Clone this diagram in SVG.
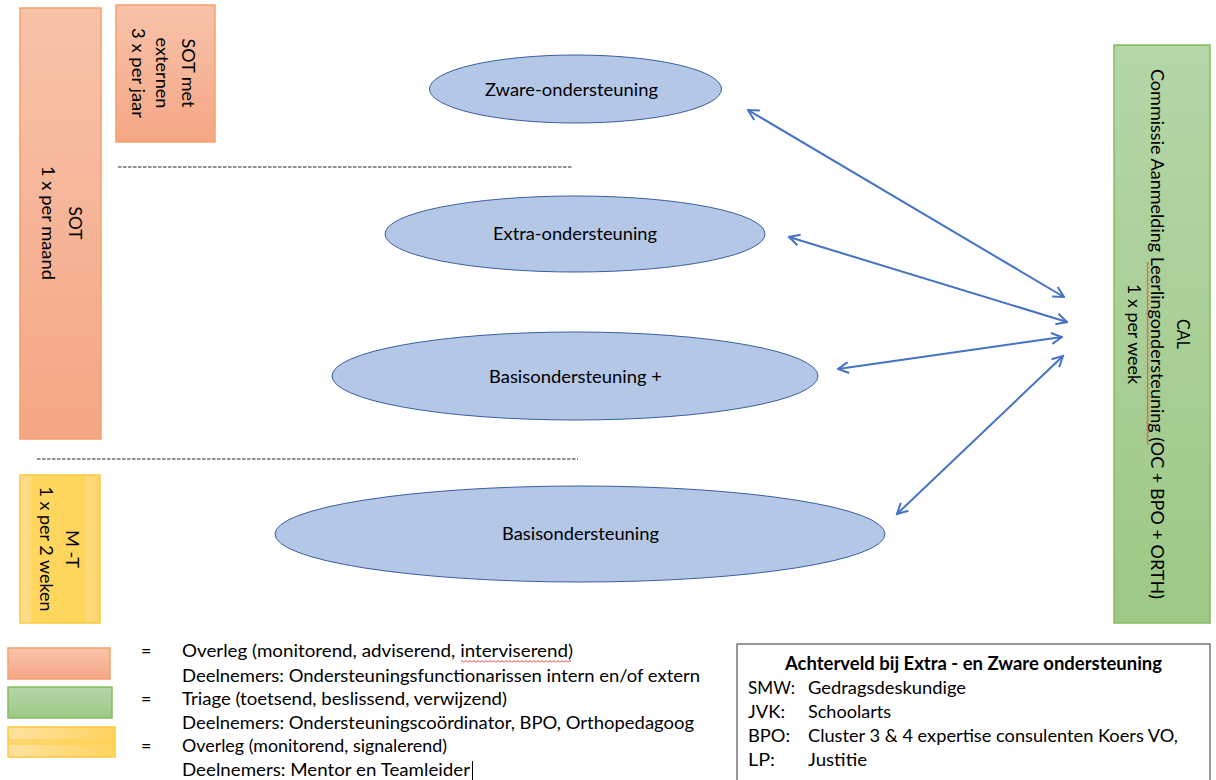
<svg xmlns="http://www.w3.org/2000/svg" width="1216" height="780" viewBox="0 0 1216 780">
<defs>
<linearGradient id="gOrange" x1="0" y1="0" x2="0" y2="1">
<stop offset="0" stop-color="#F8C3AA"/><stop offset="1" stop-color="#F4A684"/>
</linearGradient>
<linearGradient id="gGreen" x1="0" y1="0" x2="0" y2="1">
<stop offset="0" stop-color="#B5D6A8"/><stop offset="1" stop-color="#9DC886"/>
</linearGradient>
<linearGradient id="gYellowV" x1="0" y1="0" x2="1" y2="0">
<stop offset="0" stop-color="#FFDF8F"/><stop offset="0.15" stop-color="#FFDB80"/><stop offset="0.15" stop-color="#FFD75F"/><stop offset="0.82" stop-color="#FFD55B"/><stop offset="0.82" stop-color="#FFDB80"/><stop offset="1" stop-color="#FFD46A"/>
</linearGradient>
<linearGradient id="gYellowH" x1="0" y1="0" x2="1" y2="0">
<stop offset="0" stop-color="#FFE2A0"/><stop offset="1" stop-color="#FFD35E"/>
</linearGradient>
<pattern id="squig" width="4" height="3" patternUnits="userSpaceOnUse">
<path d="M0,2.5 L2,0.5 L4,2.5" fill="none" stroke="#E02020" stroke-width="0.9"/>
</pattern>
<marker id="ah" viewBox="0 0 14 14" markerWidth="14" markerHeight="14" refX="12.5" refY="7" orient="auto-start-reverse" markerUnits="userSpaceOnUse">
<path d="M2,1.5 L12.5,7 L2,12.5" fill="none" stroke="#4472C4" stroke-width="2"/>
</marker>
</defs>
<style>
text{font-family:Lato,"Liberation Sans",sans-serif;font-size:18px;fill:#000}
.mid{text-anchor:middle}
.orange{fill:url(#gOrange);stroke:#F5A06B;stroke-width:1.5}
.green{fill:url(#gGreen);stroke:#82BC5E;stroke-width:1.5}
.ell{fill:#B4C7E7;stroke:#3A5E9E;stroke-width:1}
.dash{stroke:#222;stroke-width:1;stroke-dasharray:3.5 1.5}
.conn{stroke:#4472C4;stroke-width:2;fill:none;marker-start:url(#ah);marker-end:url(#ah)}
.bold{font-weight:bold}
</style>

<g id="sot">
<rect class="orange" x="20" y="8" width="81" height="431"/>
<g transform="translate(61,223) rotate(90)">
<text class="mid" x="0" y="-8" textLength="33" lengthAdjust="spacingAndGlyphs">SOT</text>
<text class="mid" x="0" y="19" textLength="114" lengthAdjust="spacingAndGlyphs">1 x per maand</text>
</g>
</g>

<g id="sot-extern">
<rect class="orange" x="116" y="5" width="99" height="137"/>
<g transform="translate(163,73) rotate(90)">
<text class="mid" x="0" y="-19" textLength="69" lengthAdjust="spacingAndGlyphs">SOT met</text>
<text class="mid" x="0" y="7" textLength="71" lengthAdjust="spacingAndGlyphs">externen</text>
<text class="mid" x="0" y="31" textLength="90" lengthAdjust="spacingAndGlyphs">3 x per jaar</text>
</g>
</g>

<g id="mt">
<rect x="20" y="475" width="80" height="148" fill="url(#gYellowV)" stroke="#FAC93E" stroke-width="1.5"/>
<g transform="translate(60,549) rotate(90)">
<text class="mid" x="0" y="-6" textLength="38" lengthAdjust="spacingAndGlyphs">M -T</text>
<text class="mid" x="0" y="20" textLength="125" lengthAdjust="spacingAndGlyphs">1 x per 2 weken</text>
</g>
</g>

<g id="cal">
<rect class="green" x="1114" y="45" width="96" height="578"/>
<g transform="translate(1158,334) rotate(90)">
<text class="mid" x="0" y="-19" textLength="30" lengthAdjust="spacingAndGlyphs">CAL</text>
<text class="mid" x="0" y="7" textLength="530" lengthAdjust="spacingAndGlyphs">Commissie Aanmelding Leerlingondersteuning (OC + BPO + ORTH)</text>
<rect x="-72" y="9" width="183" height="3" fill="url(#squig)"/>
<text class="mid" x="0" y="30" textLength="100" lengthAdjust="spacingAndGlyphs">1 x per week</text>
</g>
</g>

<g id="dividers">
<line class="dash" x1="118" y1="167" x2="573" y2="167"/>
<line class="dash" x1="37" y1="459" x2="578" y2="459"/>
</g>

<g id="zware">
<ellipse class="ell" cx="575.5" cy="89" rx="146" ry="34"/>
<text class="mid" x="571.5" y="96" textLength="173" lengthAdjust="spacingAndGlyphs">Zware-ondersteuning</text>
</g>

<g id="extra">
<ellipse class="ell" cx="575" cy="234" rx="190" ry="38"/>
<text class="mid" x="575" y="240" textLength="164" lengthAdjust="spacingAndGlyphs">Extra-ondersteuning</text>
</g>

<g id="basis-plus">
<ellipse class="ell" cx="575" cy="376" rx="243" ry="44"/>
<text class="mid" x="575.5" y="383" textLength="173" lengthAdjust="spacingAndGlyphs">Basisondersteuning +</text>
</g>

<g id="basis">
<ellipse class="ell" cx="580" cy="534" rx="305" ry="48"/>
<text class="mid" x="580.5" y="540" textLength="157" lengthAdjust="spacingAndGlyphs">Basisondersteuning</text>
</g>

<g id="connectors">
<line class="conn" x1="748" y1="110" x2="1064" y2="297"/>
<line class="conn" x1="789" y1="237" x2="1067" y2="322"/>
<line class="conn" x1="838" y1="369" x2="1062" y2="337"/>
<line class="conn" x1="897" y1="514" x2="1063" y2="356"/>
</g>

<g id="legend">
<rect class="orange" x="8" y="648" width="102" height="31"/>
<rect class="green" x="8" y="687" width="104" height="31"/>
<rect x="8" y="727" width="107" height="30" fill="url(#gYellowH)" stroke="#FAC93E" stroke-width="1.5"/>
<rect x="9" y="739" width="105" height="6" fill="#FFD256" opacity="0.7"/>
<text x="141" y="657">=</text>
<text x="141" y="705">=</text>
<text x="141" y="752">=</text>
<text x="182" y="657" textLength="391" lengthAdjust="spacingAndGlyphs">Overleg (monitorend, adviserend, interviserend)</text>
<rect x="461" y="660" width="110" height="3" fill="url(#squig)"/>
<text x="182" y="682" textLength="518" lengthAdjust="spacingAndGlyphs">Deelnemers: Ondersteuningsfunctionarissen intern en/of extern</text>
<text x="182" y="705" textLength="325" lengthAdjust="spacingAndGlyphs">Triage (toetsend, beslissend, verwijzend)</text>
<text x="182" y="729" textLength="512" lengthAdjust="spacingAndGlyphs">Deelnemers: Ondersteuningscoördinator, BPO, Orthopedagoog</text>
<text x="182" y="752" textLength="265" lengthAdjust="spacingAndGlyphs">Overleg (monitorend, signalerend)</text>
<text x="182" y="776" textLength="288" lengthAdjust="spacingAndGlyphs">Deelnemers: Mentor en Teamleider</text>
<line x1="472.5" y1="761" x2="472.5" y2="780" stroke="#000" stroke-width="1"/>
</g>

<g id="achterveld">
<rect x="737" y="644" width="473" height="145" fill="#fff" stroke="#333" stroke-width="1"/>
<text class="mid bold" x="973.5" y="670" textLength="377" lengthAdjust="spacingAndGlyphs">Achterveld bij Extra - en Zware ondersteuning</text>
<text x="748" y="694" textLength="47" lengthAdjust="spacingAndGlyphs">SMW:</text>
<text x="808" y="694" textLength="158" lengthAdjust="spacingAndGlyphs">Gedragsdeskundige</text>
<text x="748" y="718" textLength="37" lengthAdjust="spacingAndGlyphs">JVK:</text>
<text x="808" y="718" textLength="83" lengthAdjust="spacingAndGlyphs">Schoolarts</text>
<text x="748" y="742" textLength="42" lengthAdjust="spacingAndGlyphs">BPO:</text>
<text x="808" y="742" textLength="370" lengthAdjust="spacingAndGlyphs">Cluster 3 &amp; 4 expertise consulenten Koers VO,</text>
<text x="748" y="766" textLength="27" lengthAdjust="spacingAndGlyphs">LP:</text>
<text x="808" y="766" textLength="59" lengthAdjust="spacingAndGlyphs">Justitie</text>
</g>
</svg>
